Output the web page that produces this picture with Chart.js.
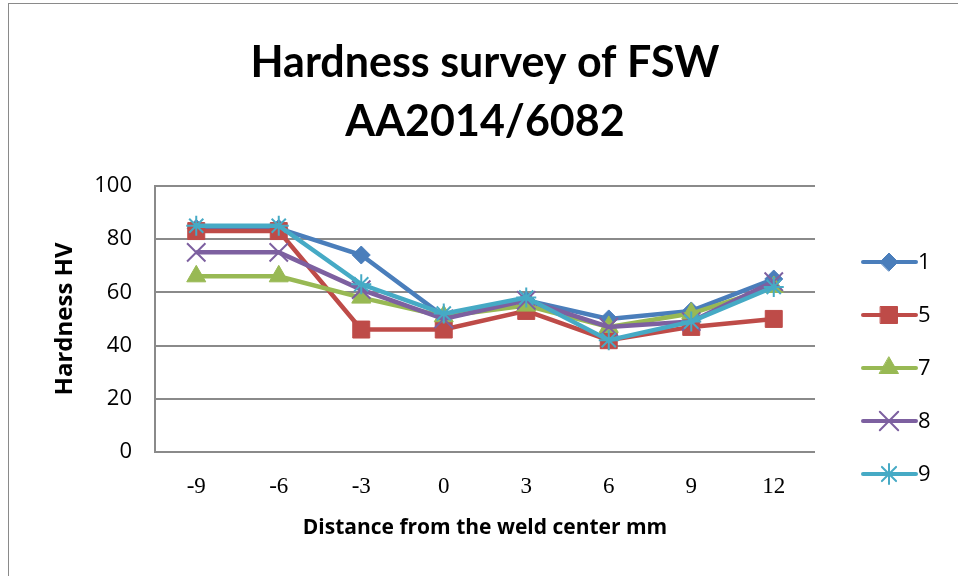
<!DOCTYPE html>
<html>
<head>
<meta charset="utf-8">
<script src="https://cdn.jsdelivr.net/npm/chart.js@4"></script>
<style>
  html, body { margin: 0; padding: 0; background: #fff; overflow: hidden; }
  #wrap { position: relative; width: 958px; height: 576px; }
  #frame { position: absolute; left: 8px; top: 3px; width: 1000px; height: 1000px; border: 1.5px solid #8a8a8a; box-sizing: border-box; pointer-events: none; }
  canvas { position: absolute; left: 0; top: 0; }
</style>
</head>
<body>
<div id="wrap">
  <div id="frame"></div>
  <canvas id="chart" width="958" height="576"></canvas>
</div>
<script>
// podaci sa grafika
const udaljenosti = ['-9', '-6', '-3', '0', '3', '6', '9', '12'];
const nazivi = ['1', '5', '7', '8', '9'];
const tvrdoca1 = [84, 84, 74, 51, 57, 50, 53, 65];
const tvrdoca5 = [83, 83, 46, 46, 53, 42, 47, 50];
const tvrdoca7 = [66, 66, 58, 51, 55, 47, 52, 62];
const tvrdoca8 = [75, 75, 61, 50, 57, 47, 49, 64];
const tvrdoca9 = [85, 85, 63, 52, 58, 42, 49, 62];
const yTicks = [0, 20, 40, 60, 80, 100];

const boje = ['#4a7ebb', '#be4b48', '#98b954', '#7d60a0', '#46aac5'];
const stilovi = [
  { pointStyle: 'rectRot', radius: 9, bw: 1 },
  { pointStyle: 'rect', radius: 12, bw: 1 },
  { pointStyle: 'triangle', radius: 11, bw: 1 },
  { pointStyle: 'crossRot', radius: 13, bw: 2 },
  { pointStyle: 'star', radius: 10, bw: 2 }
];
const serije = [tvrdoca1, tvrdoca5, tvrdoca7, tvrdoca8, tvrdoca9];

const datasets = serije.map((vrijednosti, i) => ({
  label: nazivi[i],
  data: vrijednosti,
  borderColor: boje[i],
  backgroundColor: boje[i],
  borderWidth: 4.5,
  pointStyle: stilovi[i].pointStyle,
  pointRadius: stilovi[i].radius,
  pointBorderWidth: stilovi[i].bw,
  pointBackgroundColor: boje[i],
  pointBorderColor: boje[i],
  tension: 0,
  order: serije.length - i
}));

// prostor za legendu desno
const legendaKutija = {
  position: 'right',
  weight: 10,
  fullSize: false,
  options: {},
  isHorizontal() { return false; },
  update(maxW, maxH) { this.width = 143; this.height = maxH; },
  draw() {}
};

// legenda: linija + marker + tekst
const legendaPlugin = {
  id: 'legendaPlugin',
  beforeInit(chart) {
    legendaKutija.chart = chart;
    Chart.layouts.addBox(chart, legendaKutija);
  },
  afterDraw(chart) {
    const ctx = chart.ctx;
    chart.data.datasets.forEach((ds, i) => {
      const y = 262 + i * 53;
      ctx.save();
      ctx.strokeStyle = ds.borderColor;
      ctx.lineWidth = 4;
      ctx.lineCap = 'round';
      ctx.beginPath();
      ctx.moveTo(863, y);
      ctx.lineTo(916, y);
      ctx.stroke();
      ctx.fillStyle = ds.borderColor;
      ctx.strokeStyle = ds.borderColor;
      ctx.lineWidth = ds.pointBorderWidth;
      Chart.helpers.drawPoint(ctx, { pointStyle: ds.pointStyle, radius: ds.pointRadius, rotation: 0, borderWidth: ds.pointBorderWidth }, 889, y);
      ctx.fillStyle = '#000';
      ctx.font = '22px "Open Sans"';
      ctx.textBaseline = 'middle';
      ctx.textAlign = 'left';
      ctx.fillText(ds.label, 918, y + 1);
      ctx.restore();
    });
  }
};

new Chart(document.getElementById('chart'), {
  type: 'line',
  data: { labels: udaljenosti, datasets: datasets },
  options: {
    responsive: false,
    animation: false,
    devicePixelRatio: 1,
    layout: { padding: { left: 12, right: 0, top: 0, bottom: 0 } },
    plugins: {
      legend: { display: false },
      tooltip: { enabled: false },
      title: {
        display: true,
        text: ['Hardness survey of FSW', 'AA2014/6082'],
        color: '#000',
        font: { family: 'Lato', size: 43, weight: 'bold', lineHeight: 1.37 },
        padding: { top: 34, bottom: 34 }
      }
    },
    scales: {
      x: {
        offset: true,
        grid: { display: false, drawTicks: false },
        border: { display: false },
        ticks: { color: '#000', font: { family: 'Liberation Serif', size: 23 }, padding: 21 },
        title: {
          display: true,
          text: 'Distance from the weld center mm',
          color: '#000',
          font: { family: 'Open Sans', size: 21, weight: 'bold', lineHeight: 1.2 },
          padding: { top: 0, bottom: 35 }
        },
        afterFit(scale) { scale.height = 124; }
      },
      y: {
        min: 0,
        max: 100,
        afterBuildTicks(scale) { scale.ticks = yTicks.map(v => ({ value: v })); },
        grid: { color: '#8a8a8a', lineWidth: 2, drawTicks: false },
        border: { color: '#8a8a8a', width: 2 },
        ticks: { color: '#000', font: { family: 'Open Sans', size: 22 }, padding: 23 },
        title: {
          display: true,
          text: 'Hardness HV',
          color: '#000',
          font: { family: 'Open Sans', size: 24, weight: 'bold', lineHeight: 1.2 },
          padding: { top: 39, bottom: 0 }
        },
        afterFit(scale) { scale.width = 143; }
      }
    }
  },
  plugins: [legendaPlugin]
});
</script>
</body>
</html>
